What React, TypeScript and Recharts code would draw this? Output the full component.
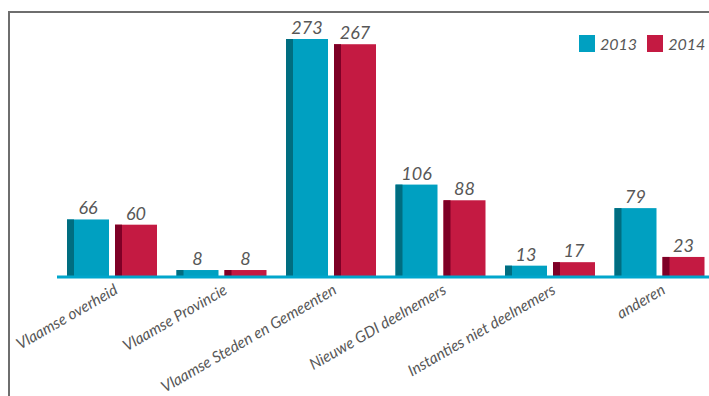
import { BarChart, Bar, XAxis, YAxis, LabelList } from 'recharts';

// categories + yearly counts
const categories = [
  'Vlaamse overheid',
  'Vlaamse Provincie',
  'Vlaamse Steden en Gemeenten',
  'Nieuwe GDI deelnemers',
  'Instanties niet deelnemers',
  'anderen',
];
const values2013 = [66, 8, 273, 106, 13, 79];
const values2014 = [60, 8, 267, 88, 17, 23];
const years = ['2013', '2014'];

const COLORS = { '2013': '#00a0c1', '2014': '#c41a42' };
const SHADES = { '2013': '#006d80', '2014': '#7e0026' };
const TEXT = '#575757';
const FONT = 'Lato, "Open Sans", sans-serif';

const data = categories.map((name, i) => ({
  name,
  '2013': values2013[i],
  '2014': values2014[i],
}));

// flat bar with a darker strip on the left, like the pseudo-3D original
const shadedBar = (year: '2013' | '2014') => (props: any) => {
  const { x, y, width, height } = props;
  if (!height || height <= 0) return <g />;
  return (
    <g>
      <rect x={x} y={y} width={width} height={height} fill={COLORS[year]} />
      <rect x={x} y={y} width={7} height={height} fill={SHADES[year]} />
    </g>
  );
};

const AngledTick = (props: any) => {
  const { x, y, payload } = props;
  const tx = x + 7;
  const ty = y + 16;
  return (
    <text
      x={tx}
      y={ty}
      transform={`rotate(-30, ${tx}, ${ty})`}
      textAnchor="end"
      fill={TEXT}
      fontFamily={FONT}
      fontStyle="italic"
      fontSize={15.5}
    >
      {payload.value}
    </text>
  );
};

const YearLegend = () => (
  <div
    style={{
      position: 'absolute',
      top: 35,
      left: 579,
      display: 'flex',
      alignItems: 'center',
      fontFamily: FONT,
      fontStyle: 'italic',
    }}
  >
    {years.map((y) => (
      <div key={y} style={{ display: 'flex', alignItems: 'center', marginRight: 10 }}>
        <span
          style={{
            display: 'inline-block',
            width: 16,
            height: 17,
            background: COLORS[y as '2013' | '2014'],
            marginRight: 5,
          }}
        />
        <span style={{ color: TEXT, fontSize: 16, lineHeight: '17px' }}>{y}</span>
      </div>
    ))}
  </div>
);

export default function App() {
  return (
    <div
      style={{
        position: 'absolute',
        left: 0,
        top: 0,
        width: 709,
        height: 396,
        overflow: 'hidden',
        background: '#fff',
      }}
    >
      <style>{`body{margin:0;overflow:hidden}`}</style>
      <div
        style={{
          position: 'absolute',
          left: 8,
          top: 11,
          width: 720,
          height: 420,
          borderTop: '2px solid #6e6e6e',
          borderLeft: '2px solid #6e6e6e',
        }}
      />
      <div style={{ position: 'absolute', left: 0, top: 0 }}>
        <BarChart
          width={730}
          height={396}
          data={data}
          margin={{ top: 39, right: 16, bottom: 89, left: 57 }}
          barSize={42}
          barGap={6}
        >
          <YAxis hide domain={[0, 273]} />
          <XAxis
            dataKey="name"
            interval={0}
            height={30}
            tickLine={false}
            tickSize={0}
            tickMargin={0}
            axisLine={{ stroke: '#00a6cc', strokeWidth: 3 }}
            tick={<AngledTick />}
          />
          {years.map((y) => (
            <Bar
              key={y}
              dataKey={y}
              fill={COLORS[y as '2013' | '2014']}
              shape={shadedBar(y as '2013' | '2014')}
              isAnimationActive={false}
            >
              <LabelList
                dataKey={y}
                position="top"
                offset={5}
                fill={TEXT}
                fontFamily={FONT}
                fontStyle="italic"
                fontSize={18}
              />
            </Bar>
          ))}
        </BarChart>
      </div>
      <YearLegend />
    </div>
  );
}
